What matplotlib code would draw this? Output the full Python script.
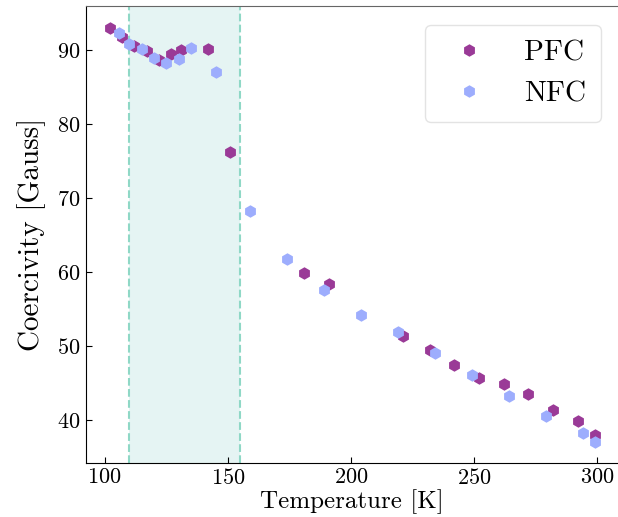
import matplotlib
matplotlib.use("Agg")
import matplotlib.pyplot as plt

plt.rcParams['font.family'] = 'serif'
plt.rcParams['font.serif'] = ['cmr10']
plt.rcParams['mathtext.fontset'] = 'cm'
plt.rcParams['axes.formatter.use_mathtext'] = True

# PFC data
pfc_temp = [102, 107, 112, 117, 122, 127, 131, 142, 151, 181, 191, 221,
            232, 242, 252, 262, 272, 282, 292, 299]
pfc_coer = [93.0, 91.7, 90.5, 89.8, 88.7, 89.4, 90.0, 90.1, 76.2, 59.9, 58.4, 51.3,
            49.5, 47.5, 45.7, 44.9, 43.5, 41.3, 39.8, 38.0]

# NFC data
nfc_temp = [106, 110, 115, 120, 125, 130, 135, 145, 159, 174, 189, 204,
            219, 234, 249, 264, 279, 294, 299]
nfc_coer = [92.3, 90.8, 90.1, 88.9, 88.2, 88.8, 90.3, 87.0, 68.3, 61.8, 57.6, 54.2,
            51.9, 49.0, 46.1, 43.2, 40.6, 38.2, 37.0]

# shaded region
span_lo, span_hi = 110, 155

fig = plt.figure(figsize=(6.18, 5.17), dpi=100)
ax = fig.add_axes([0.1387, 0.105, 0.8613, 0.8828])

ax.axvspan(span_lo, span_hi, facecolor='#e5f4f3', edgecolor='none', zorder=0)
ax.axvline(span_lo, color='#8fd8c6', ls='--', lw=1.5, zorder=1)
ax.axvline(span_hi, color='#8fd8c6', ls='--', lw=1.5, zorder=1)

ax.plot(pfc_temp, pfc_coer, 'h', color='#9a3a97', ms=9, mec='none', label='PFC', zorder=3)
ax.plot(nfc_temp, nfc_coer, 'h', color='#9dadfd', ms=9, mec='none', label='NFC', zorder=4)

ax.set_xlim(92.3, 308.4)
ax.set_ylim(34.23, 95.9)
ax.set_xticks([100, 150, 200, 250, 300])
ax.set_yticks([40, 50, 60, 70, 80, 90])
ax.tick_params(direction='in', length=4, labelsize=16)

ax.spines['right'].set_visible(False)
ax.spines['top'].set_color('#666666')

ax.set_xlabel('Temperature [K]', fontsize=18, labelpad=1)
ax.set_ylabel('Coercivity [Gauss]', fontsize=21, labelpad=8)

leg = ax.legend(loc='upper right', fontsize=21, frameon=True, handletextpad=0.9,
                borderpad=0.5, bbox_to_anchor=(0.995, 0.99))
leg.get_frame().set_edgecolor('#dddddd')

fig.savefig('out.png', dpi=100)
